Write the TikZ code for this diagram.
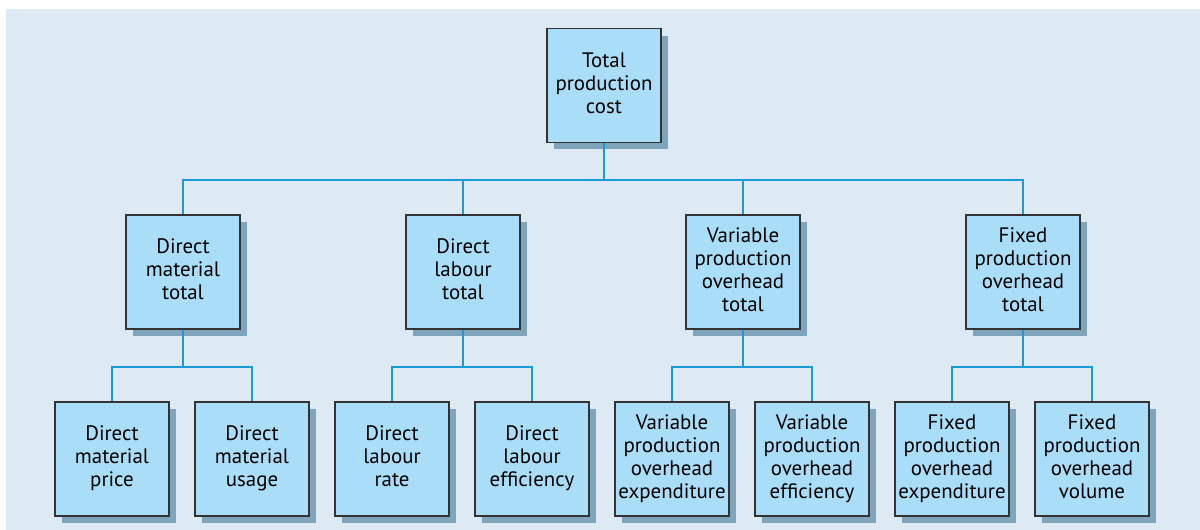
\documentclass[tikz,border=0pt]{standalone}
\usepackage{fontspec}
\setmainfont{PT Sans}
\usetikzlibrary{positioning, shadows}
\definecolor{backcol}{RGB}{221,234,243}
\definecolor{boxcol}{RGB}{170,222,248}
\definecolor{shadecol}{RGB}{126,165,187}
\definecolor{linkcol}{RGB}{26,154,214}
\definecolor{edgecol}{RGB}{51,51,51}

\begin{document}
\begin{tikzpicture}[
    x=0.02cm, y=0.02cm,
    box/.style={rectangle, draw=edgecol, line width=0.75pt, fill=boxcol,
        minimum width=2.28cm, minimum height=2.28cm, text width=2.2cm, align=center,
        inner sep=0pt, font=\fontsize{11.9}{13.1}\selectfont,
        execute at begin node=\strut, execute at end node=\strut,
        drop shadow={shadow xshift=0.14cm, shadow yshift=-0.14cm, fill=shadecol, opacity=1}},
    link/.style={draw=linkcol, line width=1.3pt}
]

\useasboundingbox (0,0) rectangle (1200,-530);
\fill[backcol] (6,-9) rectangle (1200,-530);

% Kosten gesamt
\node[box] (total) at (604,-85.5) {Total\\production\\cost};

% Zweite Ebene
\node[box] (dm) at (183,-272) {Direct\\material\\total};
\node[box] (dl) at (463,-272) {Direct\\labour\\total};
\node[box] (vo) at (743,-272) {Variable\\production\\overhead\\total};
\node[box] (fo) at (1023,-272) {Fixed\\production\\overhead\\total};

% Dritte Ebene
\node[box] (dmp) at (112,-459) {Direct\\material\\price};
\node[box] (dmu) at (252,-459) {Direct\\material\\usage};
\node[box] (dlr) at (392,-459) {Direct\\labour\\rate};
\node[box] (dle) at (532,-459) {Direct\\labour\\efficiency};
\node[box] (voe) at (672,-459) {Variable\\production\\overhead\\expenditure};
\node[box] (vof) at (812,-459) {Variable\\production\\overhead\\efficiency};
\node[box] (foe) at (952,-459) {Fixed\\production\\overhead\\expenditure};
\node[box] (fov) at (1092,-459) {Fixed\\production\\overhead\\volume};

% Verbindungen
\foreach \c in {dm, dl, vo, fo}
    \draw[link] (total.south) -- ++(0,-37) -| (\c.north);
\draw[link] (dm.south) -- ++(0,-37) -| (dmp.north);
\draw[link] (dm.south) -- ++(0,-37) -| (dmu.north);
\draw[link] (dl.south) -- ++(0,-37) -| (dlr.north);
\draw[link] (dl.south) -- ++(0,-37) -| (dle.north);
\draw[link] (vo.south) -- ++(0,-37) -| (voe.north);
\draw[link] (vo.south) -- ++(0,-37) -| (vof.north);
\draw[link] (fo.south) -- ++(0,-37) -| (foe.north);
\draw[link] (fo.south) -- ++(0,-37) -| (fov.north);

\end{tikzpicture}
\end{document}
